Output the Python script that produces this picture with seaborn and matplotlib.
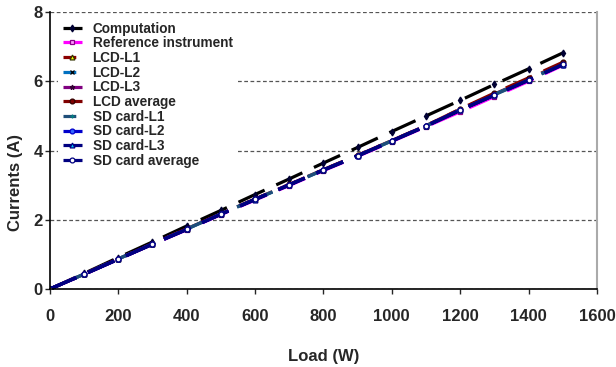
import matplotlib
matplotlib.use("Agg")
import matplotlib.pyplot as plt
import pandas as pd
import seaborn as sns

# Data
load = [0, 100, 200, 300, 400, 500, 600, 700, 800, 900, 1000, 1100, 1200, 1300, 1400, 1500]
computation = [0, 0.45, 0.91, 1.36, 1.82, 2.27, 2.73, 3.18, 3.64, 4.09, 4.55, 5.00, 5.45, 5.91, 6.36, 6.82]
reference = [0, 0.42, 0.86, 1.29, 1.71, 2.15, 2.57, 2.99, 3.42, 3.83, 4.26, 4.69, 5.12, 5.56, 6.00, 6.46]
lcd_l1 = [0, 0.43, 0.87, 1.31, 1.74, 2.17, 2.60, 3.02, 3.45, 3.86, 4.29, 4.72, 5.19, 5.63, 6.07, 6.52]
lcd_l2 = [0, 0.43, 0.87, 1.30, 1.73, 2.17, 2.59, 3.01, 3.44, 3.85, 4.28, 4.71, 5.18, 5.62, 6.05, 6.50]
lcd_l3 = [0, 0.43, 0.86, 1.30, 1.73, 2.16, 2.59, 3.01, 3.44, 3.85, 4.28, 4.71, 5.17, 5.61, 6.04, 6.49]
lcd_avg = [0, 0.43, 0.87, 1.30, 1.74, 2.17, 2.60, 3.02, 3.45, 3.86, 4.29, 4.72, 5.20, 5.66, 6.10, 6.55]
sd_l1 = [0, 0.43, 0.87, 1.30, 1.73, 2.17, 2.59, 3.01, 3.44, 3.85, 4.28, 4.71, 5.17, 5.61, 6.04, 6.49]
sd_l2 = [0, 0.43, 0.86, 1.30, 1.72, 2.16, 2.59, 3.01, 3.44, 3.85, 4.28, 4.71, 5.17, 5.60, 6.03, 6.48]
sd_l3 = [0, 0.42, 0.86, 1.29, 1.72, 2.16, 2.58, 3.00, 3.43, 3.84, 4.27, 4.70, 5.16, 5.60, 6.03, 6.48]
sd_avg = [0, 0.43, 0.86, 1.30, 1.72, 2.16, 2.59, 3.01, 3.44, 3.85, 4.28, 4.71, 5.17, 5.60, 6.04, 6.49]

series = {
    "Computation": computation,
    "Reference instrument": reference,
    "LCD-L1": lcd_l1,
    "LCD-L2": lcd_l2,
    "LCD-L3": lcd_l3,
    "LCD average": lcd_avg,
    "SD card-L1": sd_l1,
    "SD card-L2": sd_l2,
    "SD card-L3": sd_l3,
    "SD card average": sd_avg,
}

# look of each series: line colour, marker, face, edge, dash
styles = {
    "Computation": ("black", "d", "#000033", "#000033", (0, (9, 4))),
    "Reference instrument": ("#ff00ff", "s", "#ff99ff", "#880088", (0, (9, 4))),
    "LCD-L1": ("#8b0000", "^", "#ffff00", "#333300", (0, (4, 4))),
    "LCD-L2": ("#0070c0", "x", "none", "black", (0, (4, 4))),
    "LCD-L3": ("#800080", "*", "#330033", "#330033", (0, (9, 4))),
    "LCD average": ("#800000", "o", "#800000", "#330000", (0, (9, 4))),
    "SD card-L1": ("#1f4e79", "+", "none", "#008080", (0, (4, 4))),
    "SD card-L2": ("#0000cc", "o", "#3366ff", "#0000cc", (0, (9, 4))),
    "SD card-L3": ("#000080", "^", "#00ccff", "#000080", (0, (9, 4))),
    "SD card average": ("#000080", "o", "white", "#000080", (0, (9, 4))),
}

sns.set_style("ticks")
plt.rcParams["font.family"] = ["Liberation Sans", "DejaVu Sans"]
plt.rcParams["font.weight"] = "bold"
plt.rcParams["axes.labelweight"] = "bold"

fig = plt.figure(figsize=(6.16, 3.67), dpi=100)
ax = fig.add_axes([0.081, 0.2125, 0.888, 0.7545])

for name, values in series.items():
    color, marker, mfc, mec, ls = styles[name]
    df = pd.DataFrame({"Load": load, "Current": values})
    sns.lineplot(data=df, x="Load", y="Current", ax=ax, label=name, color=color,
                 linewidth=2.3, linestyle=ls, marker=marker, markersize=3.5,
                 markerfacecolor=mfc, markeredgecolor=mec, markeredgewidth=0.9)

ax.set_xlim(0, 1600)
ax.set_ylim(0, 8)
ax.set_xticks(range(0, 1601, 200))
ax.set_yticks([0, 2, 4, 6, 8])
ax.yaxis.grid(True, linestyle=(0, (3, 2)), color="#555555", linewidth=0.9)
ax.set_axisbelow(True)

for side in ["left", "bottom"]:
    ax.spines[side].set_color("black")
    ax.spines[side].set_linewidth(1.2)
ax.spines["right"].set_color("#aaaaaa")
ax.spines["right"].set_linewidth(1.5)
ax.spines["top"].set_visible(False)

ax.tick_params(axis="both", labelsize=12, length=3.6, width=1, direction="out")
ax.tick_params(axis="x", pad=11)
ax.tick_params(axis="y", pad=1.5)
ax.set_xlabel("Load (W)", fontsize=12, fontweight="bold")
ax.set_ylabel("Currents (A)", fontsize=12, fontweight="bold")
ax.xaxis.set_label_coords(0.5, -0.2166)
ax.yaxis.set_label_coords(-0.0494, 0.383)

leg = ax.legend(loc="upper left", bbox_to_anchor=(0.0145, 0.983), fontsize=9.8,
                frameon=True, facecolor="white", edgecolor="none", framealpha=1,
                fancybox=False, labelspacing=0.05, handlelength=1.4,
                handletextpad=0.8, borderpad=0.35, borderaxespad=0)
for t in leg.get_texts():
    t.set_fontweight("bold")

fig.savefig("out.png", dpi=100)
